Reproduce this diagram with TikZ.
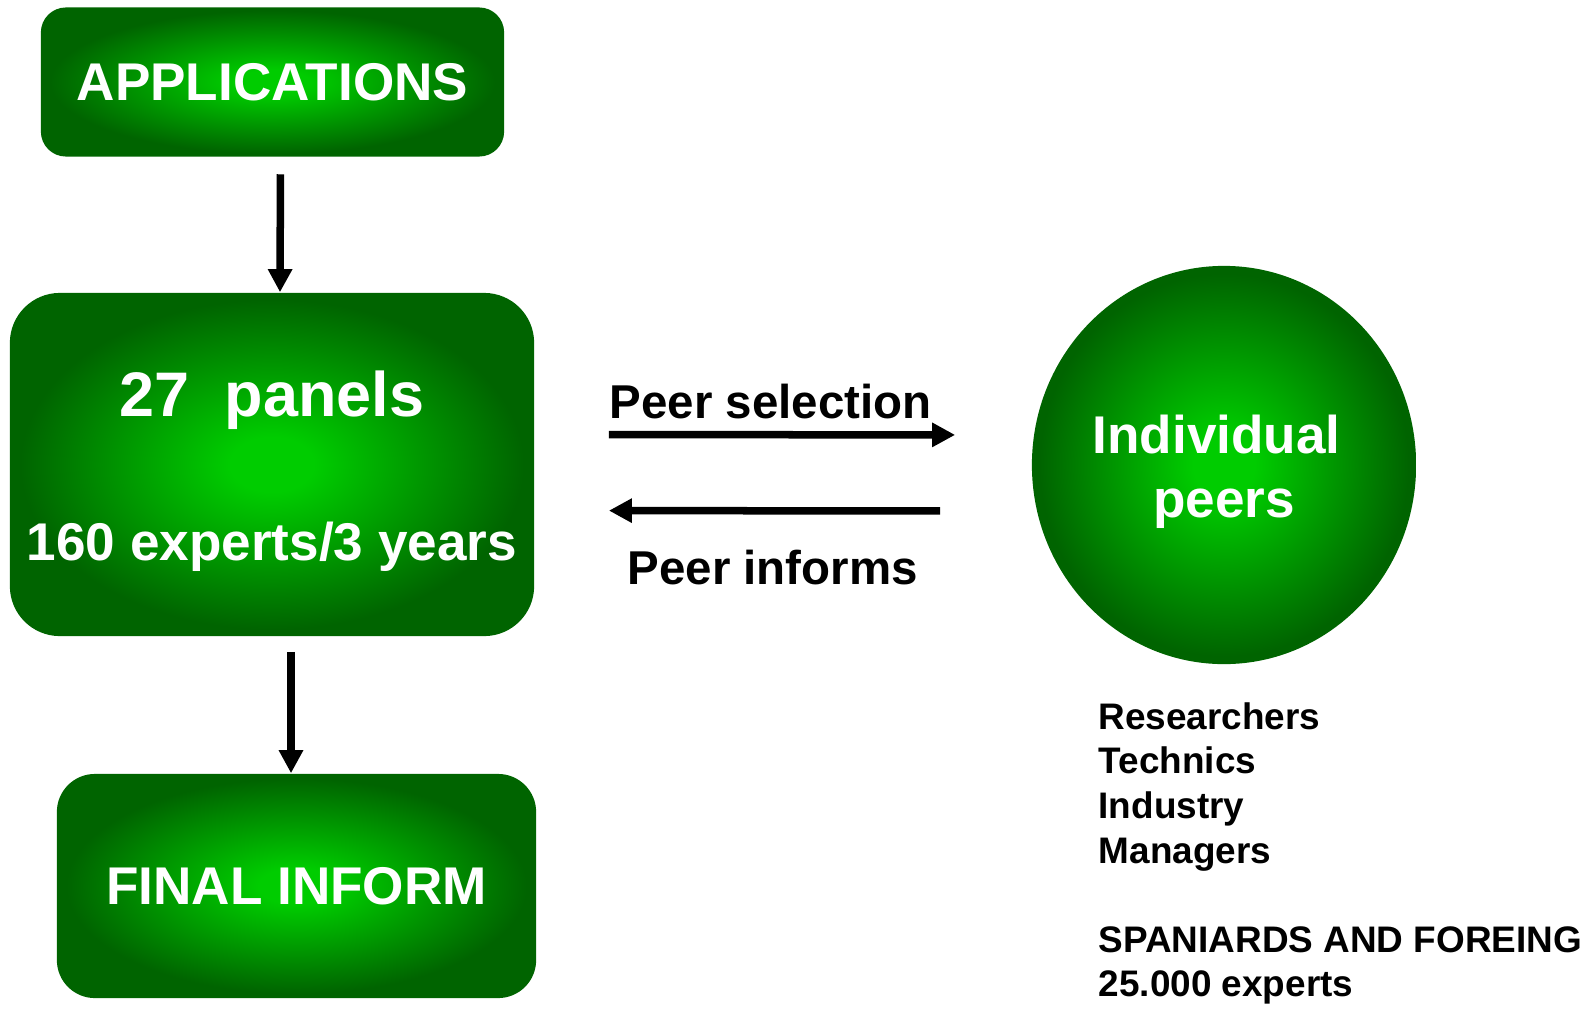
\documentclass[tikz,border=0pt]{standalone}
\usepackage{fontspec}
\setmainfont{Liberation Sans}
\usetikzlibrary{arrows.meta}
\usetikzlibrary{shapes.geometric}
\definecolor{glowin}{RGB}{0,204,0}
\definecolor{glowout}{RGB}{0,100,0}
\pgfdeclareradialshading{glow}{\pgfpoint{0bp}{0bp}}{color(0bp)=(glowin); color(4bp)=(glowin); color(24bp)=(glowout); color(50bp)=(glowout)}
\tikzset{
  greenbox/.style={shade, shading=glow, text=white, font=\bfseries\fontsize{15.1}{18.1}\selectfont, align=center, inner sep=0.1cm},
  flow/.style={line width=0.075cm, -{Triangle[length=0.23cm, width=0.23cm]}},
  peerlabel/.style={font=\bfseries\fontsize{13.5}{16.2}\selectfont, inner sep=0pt, anchor=base west}
}

\begin{document}
\begin{tikzpicture}[x=0.01cm, y=-0.01cm]
    \useasboundingbox (0,0) rectangle (1595,1009);

    \node [greenbox, rounded corners=0.25cm, minimum width=4.63cm, minimum height=1.49cm] (apps) at (272.5,82) {APPLICATIONS};
    \node [greenbox, rounded corners=0.5cm, minimum width=5.24cm, minimum height=3.43cm] (panels) at (272,464.5) {\rule{0pt}{16.8pt}{\fontsize{17.9}{21.5}\selectfont 27~~panels}\\[22.9pt]160 experts/3 years};
    \node [greenbox, rounded corners=0.38cm, minimum width=4.79cm, minimum height=2.24cm] (final) at (296.5,886) {FINAL INFORM};
    \node [greenbox, ellipse, inner sep=0pt, minimum width=3.84cm, minimum height=3.98cm] (peers) at (1224,465) {\rule{0pt}{14.8pt}Individual\kern0.15cm\\peers};

    \node [peerlabel] (selText) at (609,418) {Peer selection};
    \node [peerlabel] (infText) at (627,584) {Peer informs};
    \node [font=\bfseries\fontsize{10.5}{12.66}\selectfont, align=left, anchor=north west, inner sep=0pt] (pool) at (1098,702) {Researchers\\Technics\\Industry\\Managers\\[12.66pt]SPANIARDS AND FOREING\\25.000 experts};

    \draw [flow, shorten <=0.17cm] ([xshift=0.08cm]apps.south) -- ([xshift=0.08cm]panels.north);
    \draw [flow, shorten <=0.15cm] ([xshift=0.19cm]panels.south) -- ([xshift=0.19cm]panels.south |- final.north);
    \draw [flow, shorten <=0.74cm, shorten >=0.76cm] ([yshift=0.3cm]panels.east) -- ([yshift=0.3cm]peers.west);
    \draw [flow, shorten <=0.91cm, shorten >=0.74cm] ([yshift=-0.46cm]peers.west) -- ([yshift=-0.46cm]panels.east);
  \end{tikzpicture}
\end{document}
